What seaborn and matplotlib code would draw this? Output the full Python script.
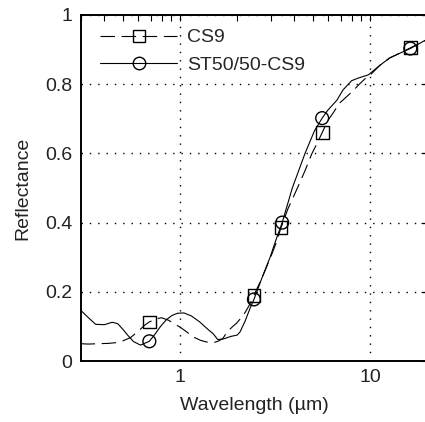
import numpy as np
import pandas as pd
import seaborn as sns
import matplotlib
matplotlib.use("Agg")
import matplotlib.pyplot as plt
from matplotlib.lines import Line2D
from matplotlib.ticker import LogLocator, NullFormatter, FixedLocator, FixedFormatter

# Reflectance spectra (wavelength in micrometres)
cs9_wl = [0.30, 0.33, 0.37, 0.42, 0.46, 0.50, 0.55, 0.60, 0.65, 0.69, 0.75, 0.80,
          0.87, 0.95, 1.00, 1.08, 1.17, 1.28, 1.38, 1.50, 1.60, 1.68, 1.77, 1.88,
          1.99, 2.10, 2.20, 2.32, 2.45, 2.70, 3.00, 3.20, 3.40, 3.70, 4.15, 4.55,
          4.95, 5.30, 5.60, 6.00, 6.40, 6.90, 7.40, 8.00, 8.90, 9.60, 10.0, 11.3,
          12.7, 14.4, 16.3, 18.8, 21.0]
cs9_refl = [0.050, 0.049, 0.050, 0.051, 0.053, 0.058, 0.068, 0.085, 0.103, 0.113, 0.122, 0.125,
            0.118, 0.105, 0.098, 0.085, 0.070, 0.060, 0.055, 0.053, 0.058, 0.065, 0.084, 0.098,
            0.110, 0.125, 0.140, 0.162, 0.190, 0.240, 0.300, 0.340, 0.385, 0.440, 0.500, 0.550,
            0.600, 0.632, 0.660, 0.695, 0.717, 0.745, 0.760, 0.777, 0.803, 0.820, 0.826, 0.855,
            0.876, 0.890, 0.905, 0.922, 0.935]

st_wl = [0.30, 0.33, 0.36, 0.40, 0.44, 0.47, 0.50, 0.53, 0.57, 0.62, 0.69, 0.74, 0.79,
         0.85, 0.91, 0.97, 1.05, 1.15, 1.27, 1.40, 1.50, 1.58, 1.70, 1.85, 2.00, 2.07,
         2.20, 2.34, 2.45, 2.70, 2.98, 3.20, 3.45, 3.90, 4.55, 5.10, 5.60, 6.00, 6.70,
         7.20, 8.00, 8.60, 9.80, 11.3, 12.7, 14.4, 16.3, 18.8, 21.0]
st_refl = [0.147, 0.125, 0.106, 0.105, 0.112, 0.108, 0.092, 0.075, 0.056, 0.046, 0.057, 0.078, 0.100,
           0.120, 0.132, 0.138, 0.139, 0.130, 0.113, 0.092, 0.078, 0.062, 0.064, 0.071, 0.075, 0.084,
           0.115, 0.153, 0.178, 0.240, 0.300, 0.350, 0.400, 0.500, 0.600, 0.665, 0.702, 0.725, 0.754,
           0.783, 0.810, 0.817, 0.827, 0.855, 0.876, 0.890, 0.903, 0.922, 0.935]

# wavelengths where symbols are drawn on each curve
marker_wl_cs9 = [0.69, 2.45, 3.40, 5.60, 16.3]
marker_wl_st = [0.69, 2.45, 3.45, 5.60, 16.3]

series_names = ["CS9", "ST50/50-CS9"]
y_ticks = [0, 0.2, 0.4, 0.6, 0.8, 1]
y_tick_labels = ["0", "0.2", "0.4", "0.6", "0.8", "1"]
x_ticks = [1, 10]
x_tick_labels = ["1", "10"]

FS = 14
sns.set_theme(style="white")
plt.rcParams["font.family"] = ["Liberation Sans", "DejaVu Sans"]
plt.rcParams["font.size"] = FS

fig = plt.figure(figsize=(4.25, 4.22), dpi=100)
ax = fig.add_axes([0.1897, 0.1445, 0.8155, 0.82])

cs9 = pd.DataFrame({"wl": cs9_wl, "refl": cs9_refl})
st = pd.DataFrame({"wl": st_wl, "refl": st_refl})
cs9_m = cs9[cs9["wl"].isin(marker_wl_cs9)]
st_m = st[st["wl"].isin(marker_wl_st)]

lw = 0.8
dash = (0, (13, 6))

sns.lineplot(data=cs9, x="wl", y="refl", ax=ax, color="black", lw=lw,
             linestyle=dash, sort=False, estimator=None)
sns.lineplot(data=st, x="wl", y="refl", ax=ax, color="black", lw=lw,
             linestyle="-", sort=False, estimator=None)
sns.scatterplot(data=cs9_m, x="wl", y="refl", ax=ax, marker="s", s=85,
                facecolor="none", edgecolor="black", linewidth=1.0, zorder=5)
sns.scatterplot(data=st_m, x="wl", y="refl", ax=ax, marker="o", s=85,
                facecolor="none", edgecolor="black", linewidth=1.0, zorder=5)

ax.set_xscale("log")
ax.set_xlim(0.3, 20)
ax.set_ylim(0, 1)

ax.xaxis.set_major_locator(FixedLocator(x_ticks))
ax.xaxis.set_major_formatter(FixedFormatter(x_tick_labels))
ax.xaxis.set_minor_locator(LogLocator(base=10, subs=np.arange(2, 10)))
ax.xaxis.set_minor_formatter(NullFormatter())
ax.yaxis.set_major_locator(FixedLocator(y_ticks))
ax.yaxis.set_major_formatter(FixedFormatter(y_tick_labels))

ax.tick_params(axis="both", which="both", direction="in", top=True, right=True,
               colors="black", labelsize=FS, labelcolor="#222222")
ax.tick_params(axis="both", which="major", length=4, width=0.8, pad=6)
ax.tick_params(axis="x", which="minor", length=4, width=0.8)

ax.grid(True, which="major", color="black", linestyle=(0, (1, 5)), linewidth=1.0)
for side in ["left", "bottom", "top", "right"]:
    ax.spines[side].set_visible(True)
    ax.spines[side].set_color("black")
    ax.spines[side].set_linewidth(1.4)

ax.set_xlabel("Wavelength (\u00b5m)", fontsize=FS, color="#222222", labelpad=8)
ax.set_ylabel("Reflectance", fontsize=FS, color="#222222", labelpad=10)

handles = [
    Line2D([], [], color="black", lw=lw, linestyle=dash, marker="s", markersize=9,
           markerfacecolor="none", markeredgecolor="black"),
    Line2D([], [], color="black", lw=lw, linestyle="-", marker="o", markersize=9,
           markerfacecolor="none", markeredgecolor="black"),
]
ax.legend(handles, series_names, loc="upper left", frameon=False, handlelength=4.0,
          handletextpad=0.5, labelspacing=0.5, fontsize=FS, numpoints=1,
          borderaxespad=0.0, borderpad=0.0, bbox_to_anchor=(0.055, 0.96))

fig.savefig("out.png", dpi=100)
